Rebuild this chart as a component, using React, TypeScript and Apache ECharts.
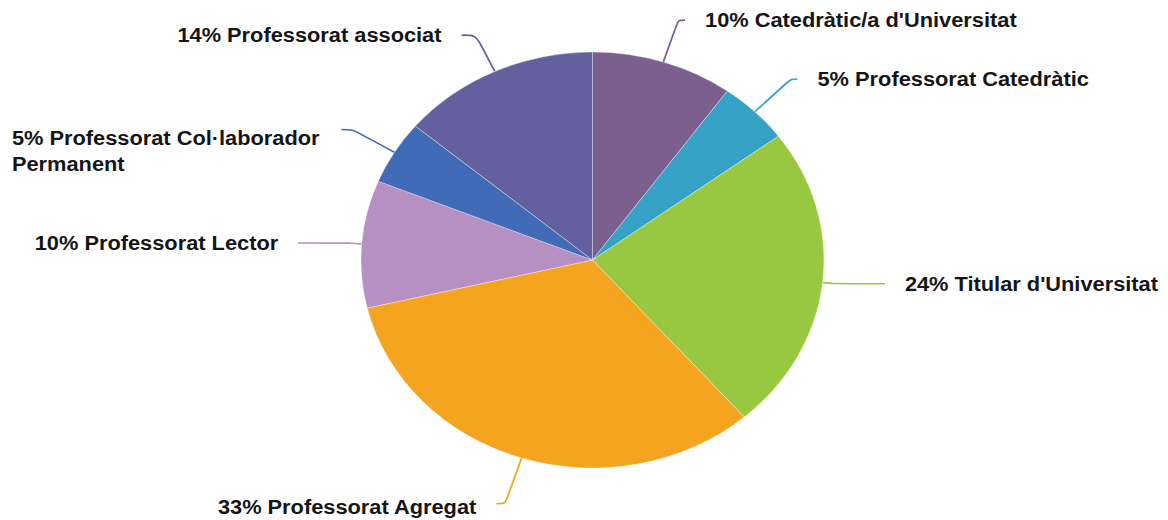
import React, { useEffect, useRef } from "react";
import * as echarts from "echarts";

const categories = [
  "Catedràtic/a d'Universitat",
  "Professorat Catedràtic",
  "Titular d'Universitat",
  "Professorat Agregat",
  "Professorat Lector",
  "Professorat Col·laborador Permanent",
  "Professorat associat",
];
const shares = [10, 5, 24, 33, 10, 5, 14];
const colors = ["#7B5F8F", "#35A2C5", "#97C83F", "#F4A41F", "#B690C3", "#416BB6", "#62609E"];

// the reference is drawn horizontally stretched (elliptical pie, wide text)
const STRETCH = 1.113;
const W = 1168 / STRETCH;

export default function App() {
  const ref = useRef<HTMLDivElement>(null);
  useEffect(() => {
    if (!ref.current) return;
    const chart = echarts.init(ref.current, null, { renderer: "svg" });
    const lineLen: Record<number, [number, number]> = {
      0: [44, 6],
      1: [46, 6],
      2: [10, 46],
      3: [48, 8],
      4: [10, 47],
      5: [44, 10],
      6: [40, 13],
    };
    const font = {
      color: "#151515",
      fontFamily: "Liberation Sans, Arial, sans-serif",
      fontWeight: "bold",
      fontSize: 19.6,
      lineHeight: 26,
    };
    chart.setOption({
      animation: false,
      backgroundColor: "#ffffff",
      series: [
        {
          type: "pie",
          center: [532.3, 260],
          radius: 208,
          startAngle: 90,
          clockwise: true,
          avoidLabelOverlap: false,
          itemStyle: { borderColor: "rgba(255,255,255,0.55)", borderWidth: 0.6 },
          label: {
            show: true,
            position: "outside",
            alignTo: "none",
            distanceToLabelLine: 18,
            ...font,
            formatter: (p: any) =>
              p.dataIndex === 5
                ? `{a|${p.value}% Professorat Col·laborador}\n{a|Permanent}`
                : `${p.value}% ${p.name}`,
            rich: {
              a: { width: 278, align: "left", ...font },
            },
          },
          labelLine: { show: true, smooth: 0.3, lineStyle: { width: 1.6 } },
          data: categories.map((name, i) => ({
            name,
            value: shares[i],
            itemStyle: { color: colors[i] },
            labelLine: { length: lineLen[i][0], length2: lineLen[i][1] },
            label:
              i === 5
                ? { padding: [42, 0, 0, 0] }
                : i === 3
                ? { padding: [6, 0, 0, 0] }
                : undefined,
          })),
        },
      ],
    });
    return () => chart.dispose();
  }, []);
  return (
    <div
      style={{
        position: "absolute",
        left: 0,
        top: 0,
        width: 1168,
        height: 520,
        overflow: "hidden",
        background: "#fff",
      }}
    >
      <div
        ref={ref}
        style={{
          width: W,
          height: 520,
          transform: `scaleX(${STRETCH})`,
          transformOrigin: "0 0",
        }}
      />
    </div>
  );
}
